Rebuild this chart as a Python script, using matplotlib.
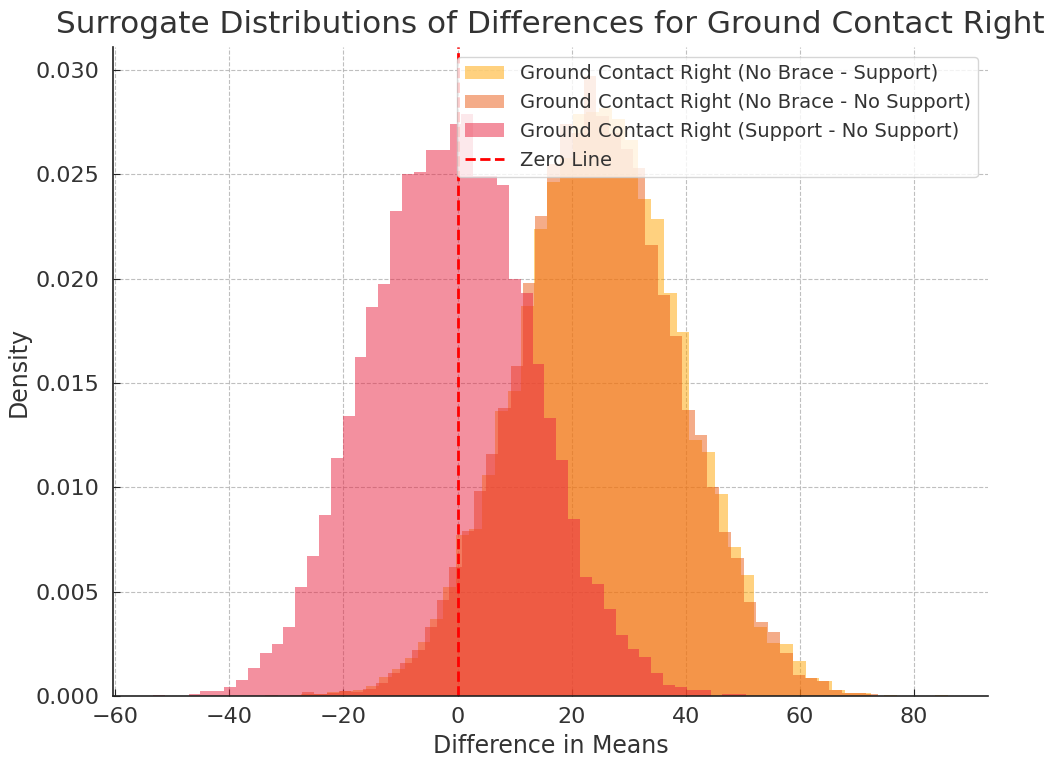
import matplotlib
matplotlib.use("Agg")
import matplotlib.pyplot as plt
import numpy as np

# Surrogate difference histograms (density per bin); bins are uniform from a start edge
nb_sup_label = "Ground Contact Right (No Brace - Support)"
nb_sup_start, nb_sup_width = -27.44, 2.27
nb_sup_density = [
    0.0001, 0.0001, 0.0002, 0.00022, 0.0003, 0.0005, 0.0009, 0.0013, 0.0018, 0.0026,
    0.0037, 0.0052, 0.0077, 0.0080, 0.0106, 0.01365, 0.0146, 0.0187, 0.02236, 0.02464,
    0.0258, 0.0279, 0.0280, 0.0282, 0.02767, 0.02666, 0.0238, 0.02288, 0.0193, 0.01746,
    0.01228, 0.0117, 0.0097, 0.00714, 0.00582, 0.0033, 0.00256, 0.00251, 0.00166, 0.00088,
    0.0007, 0.00027, 0.00016, 0.00016, 0.0, 0.00006, 0.0, 0.0, 0.0, 0.00004,
]

nb_nosup_label = "Ground Contact Right (No Brace - No Support)"
nb_nosup_start, nb_nosup_width = -33.7, 2.15
nb_nosup_density = [
    0.00004, 0.0, 0.00005, 0.00018, 0.0001, 0.00015, 0.00025, 0.0002, 0.00035, 0.0006,
    0.0011, 0.0016, 0.0022, 0.0033, 0.0046, 0.0062, 0.0079, 0.0098, 0.0116, 0.0138,
    0.0158, 0.0198, 0.0230, 0.0255, 0.0274, 0.0270, 0.0297, 0.0278, 0.0270, 0.0262,
    0.0253, 0.0216, 0.0192, 0.01723, 0.0137, 0.0125, 0.01003, 0.00786, 0.00662, 0.0045,
    0.00355, 0.00307, 0.00206, 0.00099, 0.00088, 0.0007, 0.00027, 0.00016, 0.00016, 0.00008,
]

sup_nosup_label = "Ground Contact Right (Support - No Support)"
sup_nosup_start, sup_nosup_width = -53.4, 2.08
sup_nosup_density = [
    0.00005, 0.0, 0.0, 0.00008, 0.00022, 0.00022, 0.00041, 0.00079, 0.00133, 0.00204,
    0.0025, 0.00329, 0.0052, 0.00673, 0.00866, 0.0114, 0.01342, 0.01625, 0.01863, 0.01972,
    0.02325, 0.025, 0.02509, 0.02618, 0.02615, 0.02739, 0.02789, 0.0249, 0.0249, 0.02448,
    0.0200, 0.0193, 0.0159, 0.0133, 0.0113, 0.0085, 0.0057, 0.00535, 0.00416, 0.0029,
    0.00225, 0.00186, 0.00112, 0.00055, 0.00043, 0.00031, 0.00031, 0.0, 0.00008, 0.00008,
]

series = [
    (nb_sup_start, nb_sup_width, nb_sup_density, "#FFA500", nb_sup_label),
    (nb_nosup_start, nb_nosup_width, nb_nosup_density, "#EB5B15", nb_nosup_label),
    (sup_nosup_start, sup_nosup_width, sup_nosup_density, "#E92341", sup_nosup_label),
]

text_color = "#333333"
plt.rcParams["font.family"] = ["DejaVu Sans"]

fig = plt.figure(figsize=(10.56, 7.61), dpi=100)
ax = fig.add_axes([113 / 1056, 1 - 696 / 761, (988 - 113) / 1056, (696 - 47) / 761])

for start, width, dens, color, label in series:
    edges = start + width * np.arange(len(dens) + 1)
    centers = 0.5 * (edges[:-1] + edges[1:])
    ax.hist(centers, bins=edges, weights=dens, color=color, alpha=0.5,
            histtype="stepfilled", linewidth=0, label=label)

ax.axvline(0, color="red", linestyle="--", linewidth=2, label="Zero Line")

ax.set_xlim(-60.4, 93.0)
ax.set_ylim(0, 0.0311)
ax.set_xticks([-60, -40, -20, 0, 20, 40, 60, 80])
ax.set_yticks([0.0, 0.005, 0.010, 0.015, 0.020, 0.025, 0.030])
ax.yaxis.set_major_formatter(matplotlib.ticker.FormatStrFormatter("%.3f"))

ax.grid(True, linestyle="--", color="#b0b0b0", linewidth=0.8, alpha=0.8)
ax.set_axisbelow(True)
for side in ("top", "right"):
    ax.spines[side].set_visible(False)
for side in ("left", "bottom"):
    ax.spines[side].set_color("#222222")
    ax.spines[side].set_linewidth(1.2)
ax.tick_params(axis="both", labelsize=16, labelcolor=text_color, color="#222222",
               direction="in", length=5)
ax.tick_params(axis="x", pad=8)
ax.tick_params(axis="y", pad=10)

ax.set_title("Surrogate Distributions of Differences for Ground Contact Right",
             fontsize=22.4, color=text_color, pad=10)
ax.set_xlabel("Difference in Means", fontsize=17, color=text_color, labelpad=5)
ax.set_ylabel("Density", fontsize=17, color=text_color, labelpad=3)

leg = ax.legend(loc="upper right", fontsize=14, framealpha=0.8)
for t in leg.get_texts():
    t.set_color(text_color)

fig.savefig("out.png", dpi=100)
